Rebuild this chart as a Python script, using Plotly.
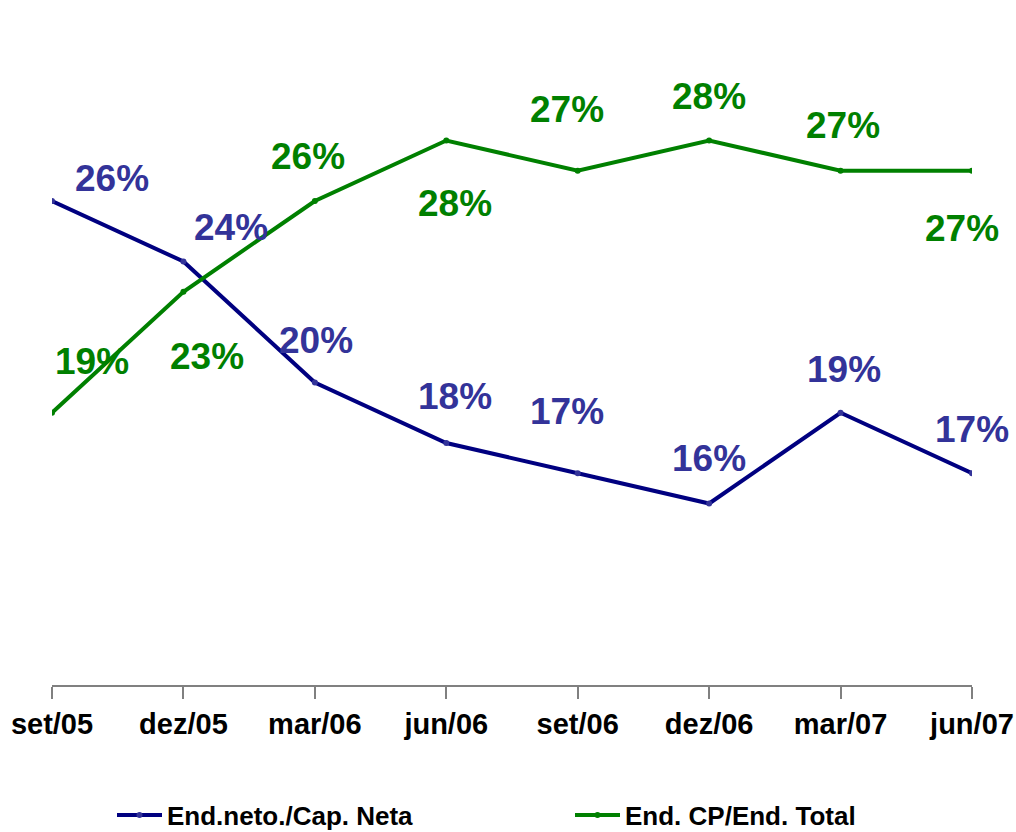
import plotly.graph_objects as go

categories = ["set/05", "dez/05", "mar/06", "jun/06", "set/06", "dez/06", "mar/07", "jun/07"]
end_neto_cap = [26, 24, 20, 18, 17, 16, 19, 17]
end_cp_total = [19, 23, 26, 28, 27, 28, 27, 27]
series_names = ["End.neto./Cap. Neta", "End. CP/End. Total"]

# label offsets in pixels (style only)
blue_offsets = [(60, 23), (48, 34), (1, 42), (9, 47), (-11, 62), (0, 45), (3, 43), (0, 44)]
green_offsets = [(40, 51), (24, -65), (-7, 45), (9, -63), (-11, 61), (0, 44), (2, 45), (-10, -58)]

FONT = "Arial, Liberation Sans, sans-serif"
BLUE_LINE = "#000080"
BLUE_TXT = "#333399"
GREEN = "#008000"

W, H = 1016, 832

x = list(range(len(categories)))

fig = go.Figure()
fig.add_trace(go.Scatter(
    x=x, y=end_neto_cap, name=series_names[0], mode="lines+markers",
    line=dict(color=BLUE_LINE, width=4),
    marker=dict(color=BLUE_TXT, size=6),
    legend="legend",
))
fig.add_trace(go.Scatter(
    x=x, y=end_cp_total, name=series_names[1], mode="lines+markers",
    line=dict(color=GREEN, width=4),
    marker=dict(color=GREEN, size=6),
    legend="legend2",
))

for xi, v, (dx, dy) in zip(x, end_neto_cap, blue_offsets):
    fig.add_annotation(x=xi, y=v, text=f"{v}%", showarrow=False, xshift=dx, yshift=dy,
                       font=dict(family=FONT, size=37, color=BLUE_TXT, weight="bold"))
for xi, v, (dx, dy) in zip(x, end_cp_total, green_offsets):
    fig.add_annotation(x=xi, y=v, text=f"{v}%", showarrow=False, xshift=dx, yshift=dy,
                       font=dict(family=FONT, size=37, color=GREEN, weight="bold"))

legend_style = dict(orientation="h", xref="container", yref="container",
                    xanchor="left", yanchor="middle", y=1 - 815 / H, itemwidth=45,
                    bgcolor="rgba(0,0,0,0)",
                    font=dict(family=FONT, size=26, color="black", weight="bold"))

fig.update_layout(
    width=W, height=H,
    margin=dict(l=52, r=44, t=80, b=147, autoexpand=False),
    paper_bgcolor="white", plot_bgcolor="white",
    font=dict(family=FONT, color="black"),
    showlegend=True,
    legend=dict(x=112 / W, **legend_style),
    legend2=dict(x=570 / W, **legend_style),
    xaxis=dict(range=[0, 7], tickvals=x, ticktext=categories, showgrid=False, zeroline=False,
               showline=True, linecolor="#808080", linewidth=2, ticks="outside", ticklen=12,
               tickcolor="#808080", tickwidth=2, automargin=False, ticklabeloverflow="allow",
               tickfont=dict(family=FONT, size=29, color="black", weight="bold")),
    yaxis=dict(range=[10, 30], visible=False, showgrid=False, zeroline=False),
)

fig.write_html(
    "out.html",
    config={"displayModeBar": False},
    post_script=("document.body.style.margin='0';document.body.style.overflow='hidden';"
                 "document.documentElement.style.overflow='hidden';"),
)
